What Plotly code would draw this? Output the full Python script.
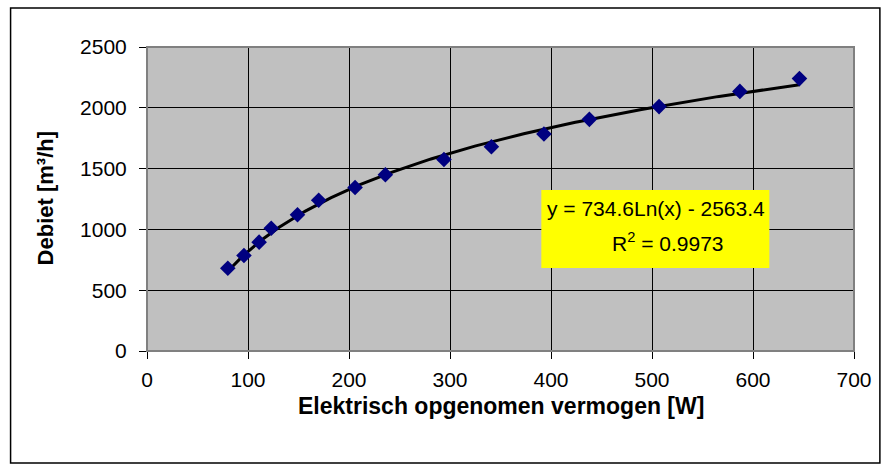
import numpy as np
import plotly.graph_objects as go

# Data
power_w = [80, 96, 111, 123, 149, 170, 206, 236, 294, 341, 393, 438, 507, 587, 646]
flow_m3h = [680, 785, 895, 1010, 1120, 1240, 1345, 1450, 1575, 1680, 1785, 1905, 2010, 2135, 2240]

# Logarithmic trendline coefficients as shown in the chart
trend_a = 734.6
trend_b = -2563.4
eq_text = "y = 734.6Ln(x) - 2563.4"
r2_text = "R<sup>2</sup> = 0.9973"

x_ticks = [0, 100, 200, 300, 400, 500, 600, 700]
y_ticks = [0, 500, 1000, 1500, 2000, 2500]

tx = np.linspace(min(power_w), max(power_w), 200)
ty = trend_a * np.log(tx) + trend_b

FONT = "Liberation Sans, Arial, sans-serif"

fig = go.Figure()
fig.add_trace(go.Scatter(x=tx, y=ty, mode="lines",
                         line=dict(color="black", width=3), showlegend=False,
                         hoverinfo="skip"))
fig.add_trace(go.Scatter(x=power_w, y=flow_m3h, mode="markers",
                         marker=dict(symbol="diamond", size=12, color="#000080"),
                         showlegend=False))

L, R, T, B = 147, 857, 47, 351
W, H = 884, 466
pw, ph = R - L, B - T

def px(x):
    return (x - L) / pw

def py(y):
    return (B - y) / ph

fig.update_layout(
    width=W, height=H,
    margin=dict(l=L, r=W - R, t=T, b=H - B),
    paper_bgcolor="white",
    plot_bgcolor="#C0C0C0",
    font=dict(family=FONT, size=21, color="black"),
    xaxis=dict(range=[0, 700], tickvals=x_ticks, showgrid=True, gridcolor="black",
               gridwidth=1, zeroline=False, showline=True, linecolor="black",
               linewidth=1, ticks="outside", ticklen=7, tickcolor="black",
               tickfont=dict(size=21), ticklabelstandoff=3),
    yaxis=dict(range=[0, 2500], tickvals=y_ticks, showgrid=True, gridcolor="black",
               gridwidth=1, zeroline=False, showline=True, linecolor="black",
               linewidth=1, ticks="outside", ticklen=7, tickcolor="black",
               tickfont=dict(size=21), ticklabelstandoff=8),
    shapes=[
        dict(type="rect", xref="paper", yref="paper", x0=0, x1=1, y0=0, y1=1,
             line=dict(color="#808080", width=2), layer="above"),
        dict(type="rect", xref="paper", yref="paper",
             x0=px(10), x1=px(883), y0=py(463), y1=py(8),
             line=dict(color="black", width=1.5)),
        dict(type="rect", xref="paper", yref="paper",
             x0=px(543), x1=px(772), y0=py(268), y1=py(190),
             fillcolor="#FFFF00", line=dict(width=0), layer="above"),
    ],
    annotations=[
        dict(xref="paper", yref="paper", x=px(502), y=py(406),
             text="<b>Elektrisch opgenomen vermogen [W]</b>", showarrow=False,
             font=dict(size=23, family=FONT), xanchor="center", yanchor="middle"),
        dict(xref="paper", yref="paper", x=px(45), y=py(198),
             text="<b>Debiet [m³/h]</b>", showarrow=False, textangle=-90,
             font=dict(size=22, family=FONT), xanchor="center", yanchor="middle"),
        dict(xref="paper", yref="paper", x=px(658), y=py(208), text=eq_text,
             showarrow=False, font=dict(size=21, family=FONT), xanchor="center",
             yanchor="middle"),
        dict(xref="paper", yref="paper", x=px(670), y=py(242), text=r2_text,
             showarrow=False, font=dict(size=21, family=FONT), xanchor="center",
             yanchor="middle"),
    ],
)

fig.write_html("out.html")
